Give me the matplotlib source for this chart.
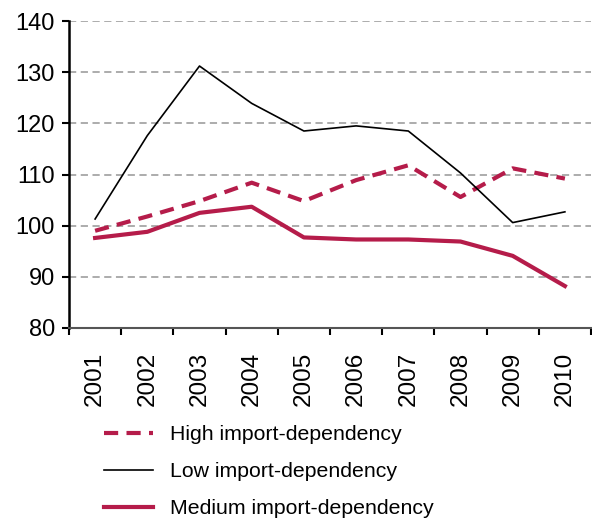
import matplotlib.pyplot as plt

# Datos
anios = ["2001", "2002", "2003", "2004", "2005", "2006", "2007", "2008", "2009", "2010"]
alta = [99.0, 101.8, 104.8, 108.4, 104.8, 108.9, 111.8, 105.6, 111.2, 109.2]
baja = [101.3, 117.6, 131.2, 123.9, 118.5, 119.5, 118.5, 110.3, 100.6, 102.7]
media = [97.6, 98.8, 102.5, 103.7, 97.7, 97.3, 97.3, 96.9, 94.1, 88.2]
y_ticks = [80, 90, 100, 110, 120, 130, 140]

ROJO = "#B51C4A"
FUENTE_EJES = ["Liberation Sans Narrow", "Liberation Sans", "DejaVu Sans"]

plt.rcParams["font.family"] = ["Liberation Sans", "DejaVu Sans"]

fig = plt.figure(figsize=(5.92, 5.22), dpi=100)
ax = fig.add_axes([69 / 592, 1 - 328 / 522, 522 / 592, 307 / 522])

x = range(1, len(anios) + 1)
ax.plot(x, alta, color=ROJO, lw=3.0, linestyle=(0, (3.4, 2.0)),
        label="High import-dependency", zorder=3)
ax.plot(x, baja, color="black", lw=1.2, label="Low import-dependency", zorder=4)
ax.plot(x, media, color=ROJO, lw=3.0, label="Medium import-dependency", zorder=3)

ax.set_xlim(0.5, len(anios) + 0.5)
ax.set_ylim(80, 140)
ax.set_yticks(y_ticks)
ax.set_yticklabels([str(v) for v in y_ticks], fontsize=17, family=FUENTE_EJES)

# Ticks del eje x en los bordes de cada categoría, etiquetas centradas
ax.set_xticks([i + 0.5 for i in range(0, len(anios) + 1)])
ax.set_xticklabels([])
ax.set_xticks(list(x), minor=True)
ax.set_xticklabels(anios, minor=True, rotation=90, fontsize=17.5, family=FUENTE_EJES)
ax.tick_params(axis="x", which="minor", length=0, pad=17)
ax.tick_params(axis="x", which="major", length=5, width=1.5, direction="out")
ax.tick_params(axis="y", length=5, width=1.5, direction="out", pad=5)

for v in y_ticks[1:]:
    ax.axhline(v, color="#A6A6A6", lw=1.3, linestyle=(0, (4, 2.5)), zorder=1)

ax.spines["top"].set_visible(False)
ax.spines["right"].set_visible(False)
ax.spines["left"].set_linewidth(1.8)
ax.spines["bottom"].set_linewidth(1.5)
ax.spines["bottom"].set_color("#555555")

fig.legend(loc="upper left", bbox_to_anchor=(104 / 592, 1 - 425 / 522),
           frameon=False, fontsize=15.3, handlelength=2.3, handletextpad=0.8,
           labelspacing=0.85, borderaxespad=0, borderpad=0)

fig.savefig("out.png", dpi=100)
